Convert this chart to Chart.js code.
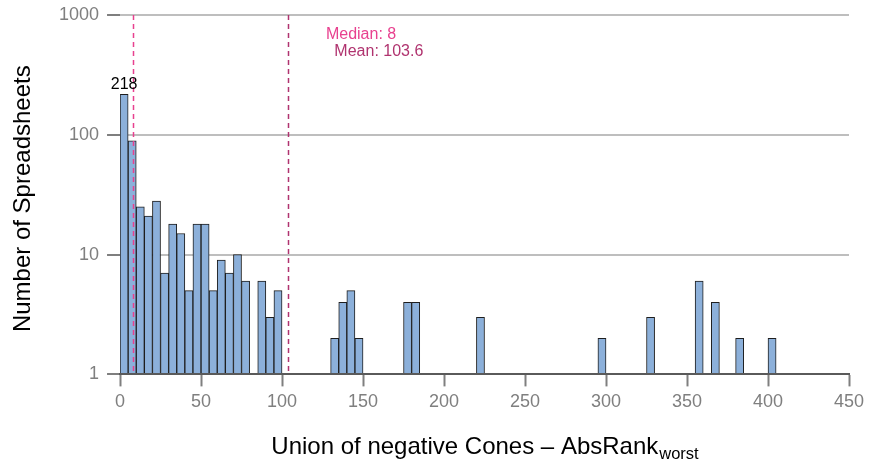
<!DOCTYPE html>
<html>
<head>
<meta charset="utf-8">
<script src="https://cdn.jsdelivr.net/npm/chart.js@4.4.0/dist/chart.umd.min.js"></script>
<style>
  html, body { margin: 0; padding: 0; background: #ffffff; }
  #wrap { width: 871px; height: 465px; position: relative; }
</style>
</head>
<body>
<div id="wrap"><canvas id="c" width="871" height="465"></canvas></div>
<script>
// ---- data ----
const binWidth = 5;
const binStarts = [0, 5, 10, 15, 20, 25, 30, 35, 40, 45, 50, 55, 60, 65, 70, 75, 85, 90, 95,
                   130, 135, 140, 145, 175, 180, 220, 295, 325, 355, 365, 380, 400];
const binCounts = [218, 89, 25, 21, 28, 7, 18, 15, 5, 18, 18, 5, 9, 7, 10, 6, 6, 3, 5,
                   2, 4, 5, 2, 4, 4, 3, 2, 3, 6, 4, 2, 2];
const yTickValues = [1, 10, 100, 1000];
const xTickStep = 50;
const xRange = [0, 450];
const medianValue = 8;
const meanValue = 103.6;
const medianLabel = 'Median: 8';
const meanLabel = 'Mean: 103.6';
const yTitle = 'Number of Spreadsheets';
const xTitleMain = 'Union of negative Cones \u2013 AbsRank';
const xTitleSub = 'worst';

const FONT = "'Liberation Sans', Arial, Helvetica, sans-serif";
Chart.defaults.font.family = FONT;

const points = binStarts.map((s, i) => ({ x: s + binWidth / 2, y: binCounts[i] }));

const extras = {
  id: 'extras',
  afterDatasetsDraw(chart) {
    const ctx = chart.ctx;
    const xs = chart.scales.x, ys = chart.scales.y;
    const area = chart.chartArea;
    ctx.save();
    // dashed reference lines
    const lines = [
      { v: medianValue, color: '#e8418f' },
      { v: meanValue, color: '#b0336f' }
    ];
    lines.forEach(l => {
      const px = Math.round(xs.getPixelForValue(l.v)) + 0.5;
      ctx.beginPath();
      ctx.setLineDash([5, 4]);
      ctx.lineWidth = 1.5;
      ctx.strokeStyle = l.color;
      ctx.moveTo(px, area.top);
      ctx.lineTo(px, area.bottom);
      ctx.stroke();
    });
    ctx.setLineDash([]);
    // annotation texts
    ctx.font = '16px ' + FONT;
    ctx.textBaseline = 'alphabetic';
    ctx.textAlign = 'left';
    ctx.fillStyle = '#e8418f';
    ctx.fillText(medianLabel, xs.getPixelForValue(127.1), 38.5);
    ctx.fillStyle = '#b0336f';
    ctx.fillText(meanLabel, xs.getPixelForValue(132.3), 56);
    // label of the tallest bar
    let mi = 0;
    binCounts.forEach((c, i) => { if (c > binCounts[mi]) mi = i; });
    ctx.fillStyle = '#000000';
    ctx.textAlign = 'center';
    ctx.fillText(String(binCounts[mi]), xs.getPixelForValue(binStarts[mi] + binWidth / 2), ys.getPixelForValue(binCounts[mi]) - 5);
    // y title
    ctx.save();
    ctx.translate(30, (area.top + area.bottom) / 2 + 4);
    ctx.rotate(-Math.PI / 2);
    ctx.font = '24px ' + FONT;
    ctx.textAlign = 'center';
    ctx.textBaseline = 'alphabetic';
    ctx.fillText(yTitle, 0, 0);
    ctx.restore();
    // x title with subscript
    ctx.font = '24px ' + FONT;
    const w1 = ctx.measureText(xTitleMain).width;
    ctx.font = '16.5px ' + FONT;
    const w2 = ctx.measureText(xTitleSub).width;
    const cx = (area.left + area.right) / 2;
    const sx = cx - (w1 + w2) / 2;
    ctx.textAlign = 'left';
    ctx.font = '24px ' + FONT;
    ctx.fillText(xTitleMain, sx, 454);
    ctx.font = '16.5px ' + FONT;
    ctx.fillText(xTitleSub, sx + w1 + 1, 458.5);
    ctx.restore();
  }
};

new Chart(document.getElementById('c'), {
  type: 'bar',
  data: {
    datasets: [{
      data: points,
      backgroundColor: '#8cb0da',
      borderColor: '#1e1e1e',
      borderWidth: 1,
      borderSkipped: 'start',
      barPercentage: 1,
      categoryPercentage: 1
    }]
  },
  options: {
    responsive: false,
    animation: false,
    devicePixelRatio: 1,
    layout: { padding: { left: 51, right: 22, top: 15, bottom: 47 } },
    plugins: { legend: { display: false }, tooltip: { enabled: false }, title: { display: false } },
    scales: {
      x: {
        type: 'linear',
        min: xRange[0],
        max: xRange[1],
        offset: false,
        grid: { display: true, drawOnChartArea: false, offset: false, tickLength: 12, tickColor: '#7f7f7f', tickWidth: 2 },
        border: { display: true, color: '#5a5a5a', width: 2, z: 1 },
        ticks: { stepSize: xTickStep, color: '#7f7f7f', font: { size: 18 }, padding: 5, maxRotation: 0, autoSkip: false }
      },
      y: {
        type: 'logarithmic',
        min: yTickValues[0],
        max: yTickValues[yTickValues.length - 1],
        afterBuildTicks: (scale) => { scale.ticks = yTickValues.map(v => ({ value: v })); },
        grid: { color: '#bebebe', lineWidth: 2, tickLength: 13, tickColor: '#7f7f7f', tickWidth: 2 },
        border: { display: false },
        ticks: { color: '#7f7f7f', font: { size: 18, lineHeight: 0.7 }, padding: 8, callback: (v) => String(v) }
      }
    }
  },
  plugins: [extras]
});
</script>
</body>
</html>
